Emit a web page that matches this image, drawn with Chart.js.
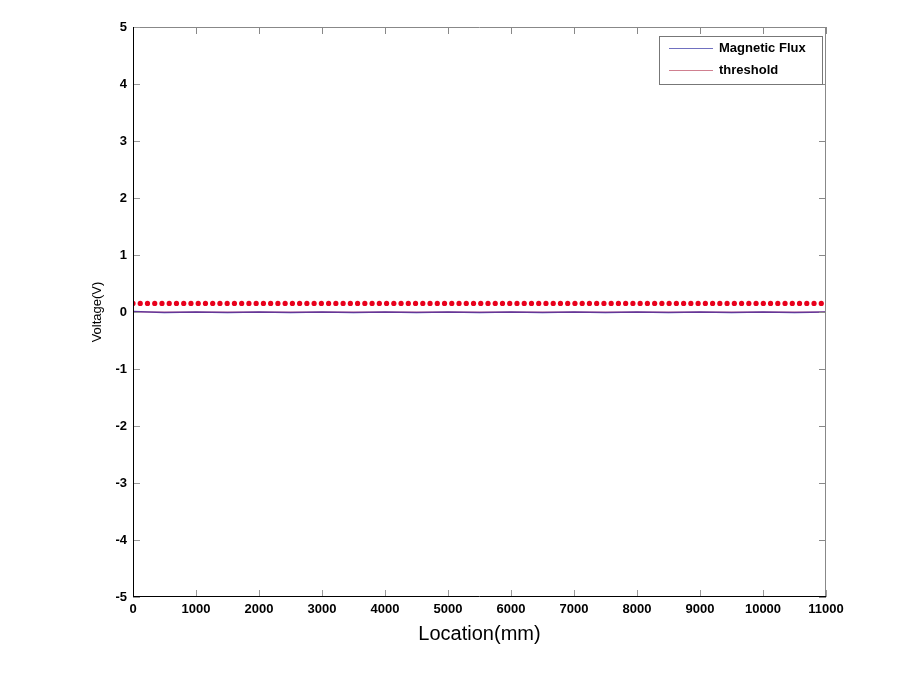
<!DOCTYPE html>
<html>
<head>
<meta charset="utf-8">
<script src="https://cdn.jsdelivr.net/npm/chart.js@4/dist/chart.umd.min.js"></script>
<style>
  html, body { margin: 0; padding: 0; background: #fff; }
  canvas { display: block; }
</style>
</head>
<body>
<canvas id="chart" width="906" height="674"></canvas>
<script>
// values
const fluxLocations = [0, 500, 1000, 1500, 2000, 2500, 3000, 3500, 4000, 4500, 5000, 5500,
  6000, 6500, 7000, 7500, 8000, 8500, 9000, 9500, 10000, 10500, 11000];
const fluxValues = [0.01, -0.01, 0.0, -0.01, 0.0, -0.01, 0.0, -0.01, 0.0, -0.01, 0.0, -0.01,
  0.0, -0.01, 0.0, -0.01, 0.0, -0.01, 0.0, -0.01, 0.0, -0.01, 0.0];
const thresholdLocations = [0, 11000];
const thresholdValues = [0, 0];
const dotLocations = [0, 115, 230, 345, 460, 575, 690, 805, 920, 1035, 1150, 1265, 1380, 1495,
  1610, 1725, 1840, 1955, 2070, 2185, 2300, 2415, 2530, 2645, 2760, 2875, 2990, 3105, 3220,
  3335, 3450, 3565, 3680, 3795, 3910, 4025, 4140, 4255, 4370, 4485, 4600, 4715, 4830, 4945,
  5060, 5175, 5290, 5405, 5520, 5635, 5750, 5865, 5980, 6095, 6210, 6325, 6440, 6555, 6670,
  6785, 6900, 7015, 7130, 7245, 7360, 7475, 7590, 7705, 7820, 7935, 8050, 8165, 8280, 8395,
  8510, 8625, 8740, 8855, 8970, 9085, 9200, 9315, 9430, 9545, 9660, 9775, 9890, 10005, 10120,
  10235, 10350, 10465, 10580, 10695, 10810, 10925];
const dotLevel = 0.15;
const xTicks = [0, 1000, 2000, 3000, 4000, 5000, 6000, 7000, 8000, 9000, 10000, 11000];
const yTicks = [-5, -4, -3, -2, -1, 0, 1, 2, 3, 4, 5];

const FONT = 'Liberation Sans, Arial, Helvetica, sans-serif';

// matlab style box, inward ticks and legend
const matlabBox = {
  id: 'matlabBox',
  afterDatasetsDraw(chart) {
    const { ctx, chartArea: a, scales } = chart;
    ctx.save();
    ctx.lineWidth = 1;
    // top / right in grey
    ctx.strokeStyle = '#888';
    ctx.beginPath();
    ctx.moveTo(a.left, a.top + 0.5); ctx.lineTo(a.right, a.top + 0.5);
    ctx.moveTo(a.right - 0.5, a.top); ctx.lineTo(a.right - 0.5, a.bottom);
    xTicks.forEach(t => {
      const x = Math.round(scales.x.getPixelForValue(t)) + 0.5;
      ctx.moveTo(x, a.top); ctx.lineTo(x, a.top + 7);
    });
    yTicks.forEach(t => {
      const y = Math.round(scales.y.getPixelForValue(t)) + 0.5;
      ctx.moveTo(a.right, y); ctx.lineTo(a.right - 7, y);
    });
    ctx.stroke();
    // bottom / left ticks
    ctx.strokeStyle = '#999';
    ctx.beginPath();
    xTicks.forEach(t => {
      const x = Math.round(scales.x.getPixelForValue(t)) + 0.5;
      ctx.moveTo(x, a.bottom); ctx.lineTo(x, a.bottom - 7);
    });
    yTicks.forEach(t => {
      const y = Math.round(scales.y.getPixelForValue(t)) + 0.5;
      ctx.moveTo(a.left, y); ctx.lineTo(a.left + 7, y);
    });
    ctx.stroke();
    // left / bottom black
    ctx.strokeStyle = '#000';
    ctx.beginPath();
    ctx.moveTo(a.left + 0.5, a.top); ctx.lineTo(a.left + 0.5, a.bottom);
    ctx.moveTo(a.left, a.bottom - 0.5); ctx.lineTo(a.right, a.bottom - 0.5);
    ctx.stroke();

    // legend
    const lx = 659, ly = 36, lw = 163, lh = 48;
    ctx.fillStyle = '#fff';
    ctx.fillRect(lx, ly, lw, lh);
    ctx.strokeStyle = '#777';
    ctx.strokeRect(lx + 0.5, ly + 0.5, lw, lh);
    ctx.font = 'bold 13px ' + FONT;
    ctx.textBaseline = 'middle';
    const items = chart.data.datasets.filter(d => d.label);
    items.forEach((d, i) => {
      const y = ly + 12 + i * 22 + 0.5;
      ctx.strokeStyle = d.legendColor;
      ctx.beginPath();
      ctx.moveTo(669, y); ctx.lineTo(713, y);
      ctx.stroke();
      ctx.fillStyle = '#000';
      ctx.fillText(d.label, 719, y);
    });
    ctx.restore();
  }
};

new Chart(document.getElementById('chart'), {
  type: 'scatter',
  data: {
    datasets: [
      {
        label: 'Magnetic Flux',
        data: fluxLocations.map((x, i) => ({ x, y: fluxValues[i] })),
        showLine: true,
        borderColor: 'rgba(40,40,170,0.9)',
        legendColor: '#7070c0',
        borderWidth: 1.5,
        pointRadius: 0,
        order: 2
      },
      {
        label: 'threshold',
        data: thresholdLocations.map((x, i) => ({ x, y: thresholdValues[i] })),
        showLine: true,
        borderColor: 'rgba(200,40,90,0.55)',
        legendColor: '#d08090',
        borderWidth: 1,
        pointRadius: 0,
        order: 1
      },
      {
        label: '',
        data: dotLocations.map(x => ({ x, y: dotLevel })),
        showLine: false,
        pointRadius: 2.6,
        pointBackgroundColor: '#e8001c',
        pointBorderColor: '#e8001c',
        borderWidth: 0,
        order: 0
      }
    ]
  },
  options: {
    responsive: false,
    animation: false,
    layout: { padding: { top: 27, right: 80, bottom: 0, left: 0 } },
    plugins: { legend: { display: false }, tooltip: { enabled: false } },
    scales: {
      x: {
        type: 'linear',
        min: 0,
        max: 11000,
        afterFit: s => { s.height = 77; },
        afterBuildTicks: s => { s.ticks = xTicks.map(v => ({ value: v })); },
        grid: { display: false, drawTicks: false },
        border: { display: false },
        ticks: {
          padding: 5,
          color: '#000',
          maxRotation: 0,
          font: { family: FONT, size: 13, weight: 'bold' },
          callback: v => String(v)
        },
        title: {
          display: true,
          text: 'Location(mm)',
          color: '#000',
          font: { family: FONT, size: 20 },
          padding: { top: 1, bottom: 28 }
        }
      },
      y: {
        type: 'linear',
        min: -5,
        max: 5,
        afterFit: s => { s.width = 133; },
        afterBuildTicks: s => { s.ticks = yTicks.map(v => ({ value: v })); },
        grid: { display: false, drawTicks: false },
        border: { display: false },
        ticks: {
          padding: 6,
          color: '#000',
          font: { family: FONT, size: 13, weight: 'bold' },
          callback: v => String(v)
        },
        title: {
          display: true,
          text: 'Voltage(V)',
          color: '#000',
          font: { family: FONT, size: 13 },
          padding: { top: 90, bottom: 0 }
        }
      }
    }
  },
  plugins: [matlabBox]
});
</script>
</body>
</html>
